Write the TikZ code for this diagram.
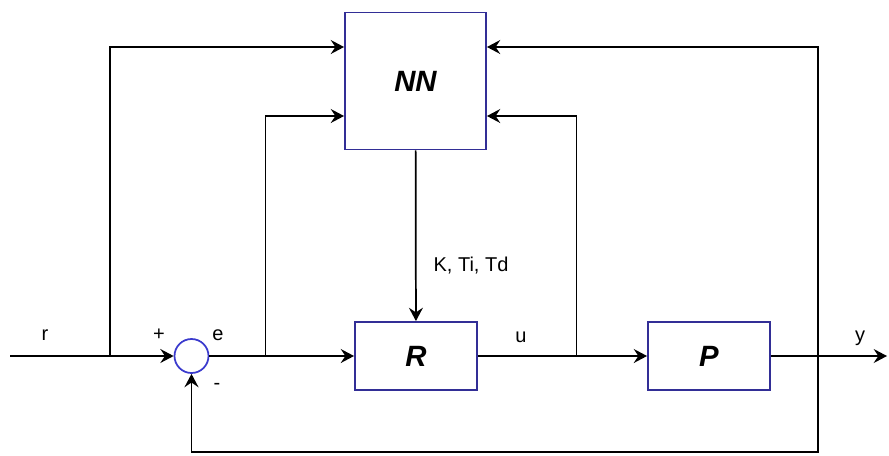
\documentclass[tikz,border=0pt]{standalone}
\usepackage{fontspec}
\setmainfont{Liberation Sans}
\usepackage{tikz}
\usetikzlibrary{arrows.meta, positioning}
\definecolor{blockblue}{RGB}{50,46,150}
\definecolor{sumblue}{RGB}{58,58,205}

\begin{document}
\begin{tikzpicture}[x=0.75pt, y=-0.75pt, line width=1.3pt,
    conn/.style={-{Stealth[length=10pt, width=10.5pt, inset=3.5pt]}},
    block/.style={draw=blockblue, line width=1.4pt, minimum width=91.5pt, minimum height=51pt,
      inner sep=0pt, font=\fontsize{22}{26}\selectfont\bfseries\itshape},
    lbl/.style={font=\fontsize{15}{18}\selectfont}]
    \useasboundingbox (0,0) rectangle (889,455);

    \node[block, minimum width=105.75pt, minimum height=102.75pt] (nn) at (415.5, 81) {NN};
    \node[block] (reg) at (416, 356) {R};
    \node[block] (plant) at (709, 356) {P};
    \node[circle, draw=sumblue, line width=1.3pt, minimum size=25.5pt, inner sep=0pt] (sum) at (191.5, 356) {};

    \coordinate (in) at (10, 356);
    \coordinate (rsplit) at (110, 356);
    \coordinate (esplit) at (265.5, 356);
    \coordinate (usplit) at (576.5, 356);
    \coordinate (ysplit) at (818, 356);
    \coordinate (out) at (887, 356);
    \coordinate (fbend) at (818, 452);
    \coordinate (hiin) at (0, 47);
    \coordinate (loin) at (0, 116);

    \draw[conn] (in) -- (sum);
    \draw[conn] (sum) -- (reg);
    \draw[conn] (reg) -- (plant);
    \draw[conn] (plant) -- (out);
    \draw[conn] (nn) -- (reg);
    \draw[conn] (rsplit) |- (nn.west |- hiin);
    \draw[conn] (esplit) |- (nn.west |- loin);
    \draw[conn] (usplit) |- (nn.east |- loin);
    \draw[conn] (ysplit) |- (nn.east |- hiin);
    \draw[conn] (ysplit) -- (fbend) -| (sum);

    \node[lbl] (rlbl) at (45, 335) {r};
    \node[lbl] (plus) at (159, 335) {+};
    \node[lbl] (elbl) at (218, 335) {e};
    \node[lbl] (minus) at (217, 386) {-};
    \node[lbl] (gains) at (471, 266) {K, Ti, Td};
    \node[lbl] (ulbl) at (521, 337) {u};
    \node[lbl] (ylbl) at (860, 338) {y};
  \end{tikzpicture}
\end{document}
